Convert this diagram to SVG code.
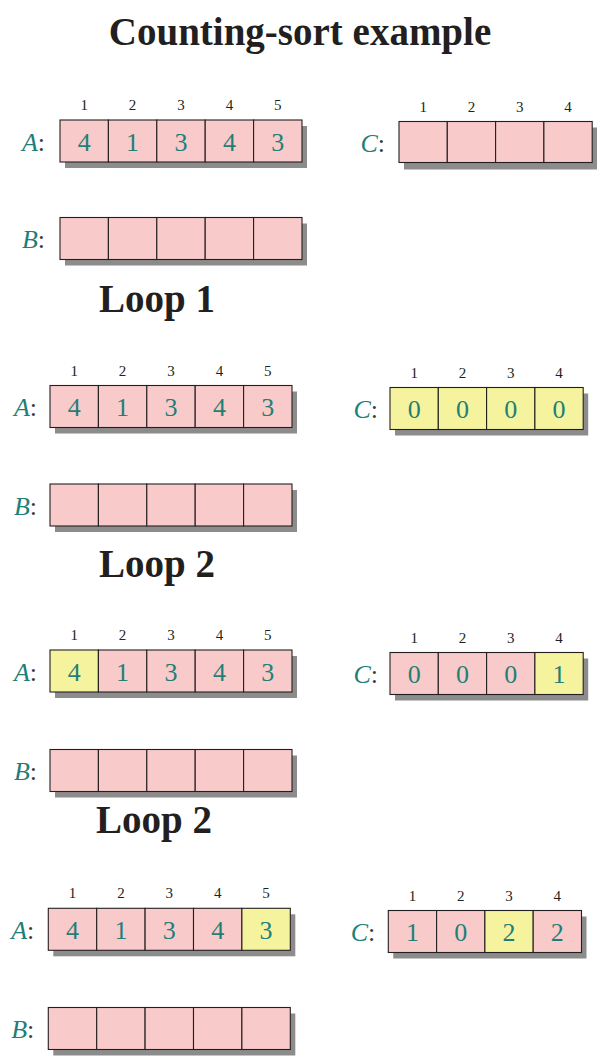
<svg xmlns="http://www.w3.org/2000/svg" width="597" height="1058" viewBox="0 0 597 1058">
<style>
.bg{fill:#ffffff}
.shadow{fill:#8c8c8c}
.pink{fill:#f9caca;stroke:#231f20;stroke-width:1.1}
.yellow{fill:#f6f39e;stroke:#231f20;stroke-width:1.1}
.idx{font-family:"Liberation Serif",serif;font-size:15px;fill:#231f20;text-anchor:middle}
.val{font-family:"Liberation Serif",serif;font-size:26px;fill:#1f7f78;text-anchor:middle}
.lbl{font-family:"Liberation Serif",serif;font-size:26px;fill:#1f7f78;text-anchor:end}
.lbl .it{font-style:italic}
.lbl .col{fill:#3a3a3a}
.head{font-family:"Liberation Serif",serif;font-weight:bold;font-size:39px;fill:#231f20}
</style>
<defs>
<rect id="sh5" class="shadow" x="5" y="6" width="242" height="42"/>
<rect id="sh4" class="shadow" x="5" y="6" width="193.2" height="42"/>
</defs>
<rect class="bg" x="0" y="0" width="597" height="1058"/>
<text class="head" x="300" y="45" text-anchor="middle">Counting-sort example</text>
<text class="head" x="99" y="312">Loop 1</text>
<text class="head" x="99" y="577">Loop 2</text>
<text class="head" x="96" y="833">Loop 2</text>

<!-- Section 1 -->
<g id="s1A" transform="translate(60,120)">
<use href="#sh5"/>
<rect class="pink" x="0" y="0" width="48.4" height="42"/><rect class="pink" x="48.4" y="0" width="48.4" height="42"/><rect class="pink" x="96.8" y="0" width="48.4" height="42"/><rect class="pink" x="145.2" y="0" width="48.4" height="42"/><rect class="pink" x="193.6" y="0" width="48.4" height="42"/>
<text class="idx" x="24.2" y="-10">1</text><text class="idx" x="72.6" y="-10">2</text><text class="idx" x="121" y="-10">3</text><text class="idx" x="169.4" y="-10">4</text><text class="idx" x="217.8" y="-10">5</text>
<text class="val" x="24.2" y="30.5">4</text><text class="val" x="72.6" y="30.5">1</text><text class="val" x="121" y="30.5">3</text><text class="val" x="169.4" y="30.5">4</text><text class="val" x="217.8" y="30.5">3</text>
<text class="lbl" x="-15" y="30.5"><tspan class="it">A</tspan><tspan class="col">:</tspan></text>
</g>
<g id="s1B" transform="translate(60,217.5)">
<use href="#sh5"/>
<rect class="pink" x="0" y="0" width="48.4" height="42"/><rect class="pink" x="48.4" y="0" width="48.4" height="42"/><rect class="pink" x="96.8" y="0" width="48.4" height="42"/><rect class="pink" x="145.2" y="0" width="48.4" height="42"/><rect class="pink" x="193.6" y="0" width="48.4" height="42"/>
<text class="lbl" x="-15" y="30.5"><tspan class="it">B</tspan><tspan class="col">:</tspan></text>
</g>
<g id="s1C" transform="translate(399,121.5)">
<use href="#sh4"/>
<rect class="pink" x="0" y="0" width="48.3" height="41"/><rect class="pink" x="48.3" y="0" width="48.3" height="41"/><rect class="pink" x="96.6" y="0" width="48.3" height="41"/><rect class="pink" x="144.9" y="0" width="48.3" height="41"/>
<text class="idx" x="24.15" y="-10">1</text><text class="idx" x="72.45" y="-10">2</text><text class="idx" x="120.75" y="-10">3</text><text class="idx" x="169.05" y="-10">4</text>
<text class="lbl" x="-14" y="30.5"><tspan class="it">C</tspan><tspan class="col">:</tspan></text>
</g>

<!-- Section 2 -->
<g id="s2A" transform="translate(50,385.5)">
<use href="#sh5"/>
<rect class="pink" x="0" y="0" width="48.4" height="42"/><rect class="pink" x="48.4" y="0" width="48.4" height="42"/><rect class="pink" x="96.8" y="0" width="48.4" height="42"/><rect class="pink" x="145.2" y="0" width="48.4" height="42"/><rect class="pink" x="193.6" y="0" width="48.4" height="42"/>
<text class="idx" x="24.2" y="-10">1</text><text class="idx" x="72.6" y="-10">2</text><text class="idx" x="121" y="-10">3</text><text class="idx" x="169.4" y="-10">4</text><text class="idx" x="217.8" y="-10">5</text>
<text class="val" x="24.2" y="30.5">4</text><text class="val" x="72.6" y="30.5">1</text><text class="val" x="121" y="30.5">3</text><text class="val" x="169.4" y="30.5">4</text><text class="val" x="217.8" y="30.5">3</text>
<text class="lbl" x="-13" y="30.5"><tspan class="it">A</tspan><tspan class="col">:</tspan></text>
</g>
<g id="s2B" transform="translate(50,484)">
<use href="#sh5"/>
<rect class="pink" x="0" y="0" width="48.4" height="42"/><rect class="pink" x="48.4" y="0" width="48.4" height="42"/><rect class="pink" x="96.8" y="0" width="48.4" height="42"/><rect class="pink" x="145.2" y="0" width="48.4" height="42"/><rect class="pink" x="193.6" y="0" width="48.4" height="42"/>
<text class="lbl" x="-13" y="30.5"><tspan class="it">B</tspan><tspan class="col">:</tspan></text>
</g>
<g id="s2C" transform="translate(390,387.5)">
<use href="#sh4"/>
<rect class="yellow" x="0" y="0" width="48.3" height="42"/><rect class="yellow" x="48.3" y="0" width="48.3" height="42"/><rect class="yellow" x="96.6" y="0" width="48.3" height="42"/><rect class="yellow" x="144.9" y="0" width="48.3" height="42"/>
<text class="idx" x="24.15" y="-10">1</text><text class="idx" x="72.45" y="-10">2</text><text class="idx" x="120.75" y="-10">3</text><text class="idx" x="169.05" y="-10">4</text>
<text class="val" x="24.15" y="30.5">0</text><text class="val" x="72.45" y="30.5">0</text><text class="val" x="120.75" y="30.5">0</text><text class="val" x="169.05" y="30.5">0</text>
<text class="lbl" x="-12" y="30.5"><tspan class="it">C</tspan><tspan class="col">:</tspan></text>
</g>

<!-- Section 3 -->
<g id="s3A" transform="translate(50,650)">
<use href="#sh5"/>
<rect class="yellow" x="0" y="0" width="48.4" height="42"/><rect class="pink" x="48.4" y="0" width="48.4" height="42"/><rect class="pink" x="96.8" y="0" width="48.4" height="42"/><rect class="pink" x="145.2" y="0" width="48.4" height="42"/><rect class="pink" x="193.6" y="0" width="48.4" height="42"/>
<text class="idx" x="24.2" y="-10">1</text><text class="idx" x="72.6" y="-10">2</text><text class="idx" x="121" y="-10">3</text><text class="idx" x="169.4" y="-10">4</text><text class="idx" x="217.8" y="-10">5</text>
<text class="val" x="24.2" y="30.5">4</text><text class="val" x="72.6" y="30.5">1</text><text class="val" x="121" y="30.5">3</text><text class="val" x="169.4" y="30.5">4</text><text class="val" x="217.8" y="30.5">3</text>
<text class="lbl" x="-13" y="30.5"><tspan class="it">A</tspan><tspan class="col">:</tspan></text>
</g>
<g id="s3B" transform="translate(50,749.5)">
<use href="#sh5"/>
<rect class="pink" x="0" y="0" width="48.4" height="42"/><rect class="pink" x="48.4" y="0" width="48.4" height="42"/><rect class="pink" x="96.8" y="0" width="48.4" height="42"/><rect class="pink" x="145.2" y="0" width="48.4" height="42"/><rect class="pink" x="193.6" y="0" width="48.4" height="42"/>
<text class="lbl" x="-13" y="30.5"><tspan class="it">B</tspan><tspan class="col">:</tspan></text>
</g>
<g id="s3C" transform="translate(390,652.5)">
<use href="#sh4"/>
<rect class="pink" x="0" y="0" width="48.3" height="42"/><rect class="pink" x="48.3" y="0" width="48.3" height="42"/><rect class="pink" x="96.6" y="0" width="48.3" height="42"/><rect class="yellow" x="144.9" y="0" width="48.3" height="42"/>
<text class="idx" x="24.15" y="-10">1</text><text class="idx" x="72.45" y="-10">2</text><text class="idx" x="120.75" y="-10">3</text><text class="idx" x="169.05" y="-10">4</text>
<text class="val" x="24.15" y="30.5">0</text><text class="val" x="72.45" y="30.5">0</text><text class="val" x="120.75" y="30.5">0</text><text class="val" x="169.05" y="30.5">1</text>
<text class="lbl" x="-12" y="30.5"><tspan class="it">C</tspan><tspan class="col">:</tspan></text>
</g>

<!-- Section 4 -->
<g id="s4A" transform="translate(48.3,908.3)">
<use href="#sh5"/>
<rect class="pink" x="0" y="0" width="48.4" height="42"/><rect class="pink" x="48.4" y="0" width="48.4" height="42"/><rect class="pink" x="96.8" y="0" width="48.4" height="42"/><rect class="pink" x="145.2" y="0" width="48.4" height="42"/><rect class="yellow" x="193.6" y="0" width="48.4" height="42"/>
<text class="idx" x="24.2" y="-10">1</text><text class="idx" x="72.6" y="-10">2</text><text class="idx" x="121" y="-10">3</text><text class="idx" x="169.4" y="-10">4</text><text class="idx" x="217.8" y="-10">5</text>
<text class="val" x="24.2" y="30.5">4</text><text class="val" x="72.6" y="30.5">1</text><text class="val" x="121" y="30.5">3</text><text class="val" x="169.4" y="30.5">4</text><text class="val" x="217.8" y="30.5">3</text>
<text class="lbl" x="-14" y="30.5"><tspan class="it">A</tspan><tspan class="col">:</tspan></text>
</g>
<g id="s4B" transform="translate(48.3,1007.5)">
<use href="#sh5"/>
<rect class="pink" x="0" y="0" width="48.4" height="42"/><rect class="pink" x="48.4" y="0" width="48.4" height="42"/><rect class="pink" x="96.8" y="0" width="48.4" height="42"/><rect class="pink" x="145.2" y="0" width="48.4" height="42"/><rect class="pink" x="193.6" y="0" width="48.4" height="42"/>
<text class="lbl" x="-14" y="30.5"><tspan class="it">B</tspan><tspan class="col">:</tspan></text>
</g>
<g id="s4C" transform="translate(388.3,910.5)">
<use href="#sh4"/>
<rect class="pink" x="0" y="0" width="48.3" height="42"/><rect class="pink" x="48.3" y="0" width="48.3" height="42"/><rect class="yellow" x="96.6" y="0" width="48.3" height="42"/><rect class="pink" x="144.9" y="0" width="48.3" height="42"/>
<text class="idx" x="24.15" y="-10">1</text><text class="idx" x="72.45" y="-10">2</text><text class="idx" x="120.75" y="-10">3</text><text class="idx" x="169.05" y="-10">4</text>
<text class="val" x="24.15" y="30.5">1</text><text class="val" x="72.45" y="30.5">0</text><text class="val" x="120.75" y="30.5">2</text><text class="val" x="169.05" y="30.5">2</text>
<text class="lbl" x="-13" y="30.5"><tspan class="it">C</tspan><tspan class="col">:</tspan></text>
</g>
</svg>
